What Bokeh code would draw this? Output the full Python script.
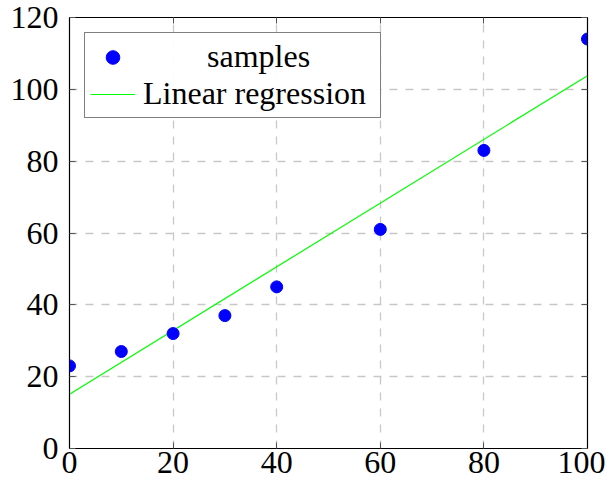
from bokeh.plotting import figure
from bokeh.models import LinearAxis, FixedTicker, Range1d, Legend, LegendItem
from bokeh.embed import file_html
from bokeh.resources import INLINE

# data
sample_x = [0, 10, 20, 30, 40, 60, 80, 100]
sample_y = [23, 27, 32, 37, 45, 61, 83, 114]
fit_x = [0, 100]
fit_y = [15.1, 103.8]
x_ticks = [0, 20, 40, 60, 80, 100]
y_ticks = [0, 20, 40, 60, 80, 100, 120]

FONT = "Liberation Serif"
FS = "32px"

p = figure(width=605, height=484, output_backend="svg", toolbar_location=None,
           x_range=Range1d(0, 100), y_range=Range1d(0, 120),
           min_border_left=69, min_border_right=18, min_border_top=17, min_border_bottom=36)
p.background_fill_color = "white"
p.border_fill_color = "white"
p.outline_line_color = "black"
p.outline_line_width = 1.2

for ax in (p.xaxis[0], p.yaxis[0]):
    ax.major_label_text_font = FONT
    ax.major_label_text_font_size = FS
    ax.major_label_text_color = "black"
    ax.major_tick_in = 6
    ax.major_tick_out = 0
    ax.minor_tick_in = 0
    ax.minor_tick_out = 0
    ax.axis_line_color = "black"
    ax.major_tick_line_color = "#555555"
p.xaxis[0].ticker = FixedTicker(ticks=x_ticks)
p.yaxis[0].ticker = FixedTicker(ticks=y_ticks)
p.xaxis[0].major_label_standoff = 3
p.yaxis[0].major_label_standoff = 11

for loc, ticks in (("above", x_ticks), ("right", y_ticks)):
    a = LinearAxis(ticker=FixedTicker(ticks=ticks))
    a.major_label_text_font_size = "0px"
    a.major_label_text_color = None
    a.major_tick_in = 6
    a.major_tick_out = 0
    a.minor_tick_in = 0
    a.minor_tick_out = 0
    a.axis_line_color = "black"
    a.major_tick_line_color = "#555555"
    a.major_label_standoff = 0
    p.add_layout(a, loc)

p.xgrid.ticker = FixedTicker(ticks=x_ticks)
p.ygrid.ticker = FixedTicker(ticks=y_ticks)
for g in (p.xgrid[0], p.ygrid[0]):
    g.grid_line_color = "#c8c8c8"
    g.grid_line_dash = "8 8"
    g.grid_line_width = 1.3

ln = p.line(fit_x, fit_y, line_color="#00ff00", line_width=1.2)
sc = p.scatter(sample_x, sample_y, size=12, fill_color="#0000ff", line_color="#0000ff")

NB = "\u00a0"
legend = Legend(items=[LegendItem(label=NB * 8 + "samples", renderers=[sc]),
                       LegendItem(label="Linear regression", renderers=[ln])],
                location="top_left")
legend.label_text_font = FONT
legend.label_text_font_size = FS
legend.label_text_color = "black"
legend.border_line_color = "black"
legend.border_line_width = 1
legend.margin = 15
legend.padding = 5
legend.spacing = 0
legend.glyph_width = 45
legend.glyph_height = 34
legend.label_standoff = 8
legend.label_height = 34
legend.label_width = 232
p.add_layout(legend, "center")

open("out.html", "w").write(file_html(p, INLINE))
